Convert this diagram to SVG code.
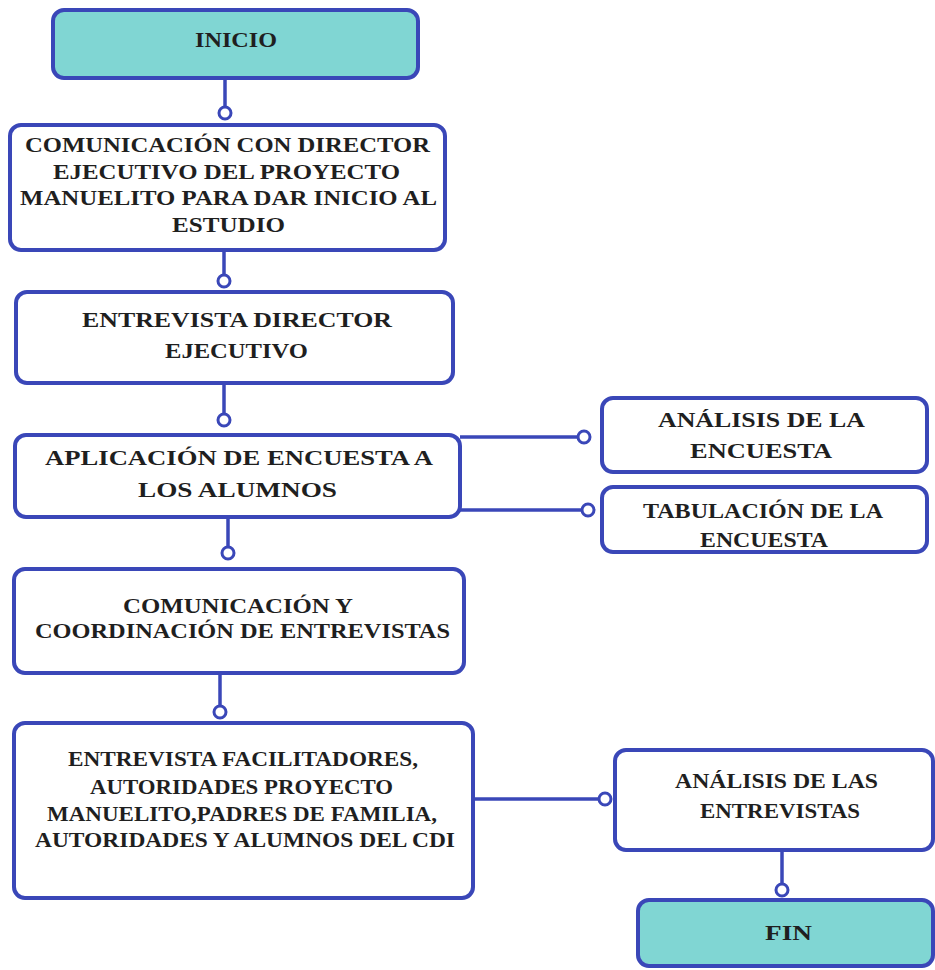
<svg xmlns="http://www.w3.org/2000/svg" width="935" height="970" viewBox="0 0 935 970">
<style>
.box{fill:#ffffff;stroke:#3a47b8;stroke-width:4}
.term{fill:#80d6d3;stroke:#3a47b8;stroke-width:4}
.t{font-family:"Liberation Serif","Times New Roman",serif;font-weight:bold;font-size:22px;fill:#1f1f1f;text-anchor:middle}
.ln{stroke:#3a47b8;stroke-width:3.5;fill:none}
.dot{fill:#ffffff;stroke:#3a47b8;stroke-width:3}
</style>
<rect width="935" height="970" fill="#ffffff"/>
<g id="connectors">
<line class="ln" x1="225" y1="78" x2="225" y2="107"/>
<circle class="dot" cx="225" cy="113" r="6"/>
<line class="ln" x1="224" y1="250" x2="224" y2="275"/>
<circle class="dot" cx="224" cy="281" r="6"/>
<line class="ln" x1="224" y1="383" x2="224" y2="414"/>
<circle class="dot" cx="224" cy="420" r="6"/>
<line class="ln" x1="460" y1="437" x2="578" y2="437"/>
<circle class="dot" cx="584" cy="437" r="6"/>
<line class="ln" x1="460" y1="510" x2="582" y2="510"/>
<circle class="dot" cx="588" cy="510" r="6"/>
<line class="ln" x1="228" y1="517" x2="228" y2="547"/>
<circle class="dot" cx="228" cy="553" r="6"/>
<line class="ln" x1="220" y1="673" x2="220" y2="706"/>
<circle class="dot" cx="220" cy="712" r="6"/>
<line class="ln" x1="473" y1="799" x2="599" y2="799"/>
<circle class="dot" cx="605" cy="799" r="6"/>
<line class="ln" x1="782" y1="850" x2="782" y2="884"/>
<circle class="dot" cx="782" cy="890" r="6"/>
</g>
<g id="inicio">
<rect class="term" x="53" y="10" width="365" height="68" rx="11"/>
<text class="t" x="236" y="47" textLength="82" lengthAdjust="spacingAndGlyphs">INICIO</text>
</g>
<g id="comunicacion-director">
<rect class="box" x="10" y="125" width="435" height="125" rx="11"/>
<text class="t" x="227.5" y="152" textLength="405" lengthAdjust="spacingAndGlyphs">COMUNICACIÓN CON DIRECTOR</text>
<text class="t" x="226.5" y="179" textLength="347" lengthAdjust="spacingAndGlyphs">EJECUTIVO DEL PROYECTO</text>
<text class="t" x="228.5" y="205" textLength="417" lengthAdjust="spacingAndGlyphs">MANUELITO PARA DAR INICIO AL</text>
<text class="t" x="228.5" y="232" textLength="113" lengthAdjust="spacingAndGlyphs">ESTUDIO</text>
</g>
<g id="entrevista-director">
<rect class="box" x="16" y="292" width="437" height="91" rx="11"/>
<text class="t" x="237" y="327" textLength="310" lengthAdjust="spacingAndGlyphs">ENTREVISTA DIRECTOR</text>
<text class="t" x="236.5" y="358" textLength="143" lengthAdjust="spacingAndGlyphs">EJECUTIVO</text>
</g>
<g id="aplicacion-encuesta">
<rect class="box" x="15" y="435" width="445" height="82" rx="11"/>
<text class="t" x="239" y="465" textLength="388" lengthAdjust="spacingAndGlyphs">APLICACIÓN DE ENCUESTA A</text>
<text class="t" x="237.5" y="497" textLength="199" lengthAdjust="spacingAndGlyphs">LOS ALUMNOS</text>
</g>
<g id="analisis-encuesta">
<rect class="box" x="602" y="398" width="325" height="74" rx="11"/>
<text class="t" x="761.5" y="427" textLength="207" lengthAdjust="spacingAndGlyphs">ANÁLISIS DE LA</text>
<text class="t" x="761" y="458" textLength="142" lengthAdjust="spacingAndGlyphs">ENCUESTA</text>
</g>
<g id="tabulacion-encuesta">
<rect class="box" x="602" y="487" width="325" height="65" rx="11"/>
<text class="t" x="763" y="518" textLength="240" lengthAdjust="spacingAndGlyphs">TABULACIÓN DE LA</text>
<text class="t" x="764" y="547" textLength="128" lengthAdjust="spacingAndGlyphs">ENCUESTA</text>
</g>
<g id="coordinacion-entrevistas">
<rect class="box" x="14" y="569" width="450" height="104" rx="11"/>
<text class="t" x="238" y="613" textLength="230" lengthAdjust="spacingAndGlyphs">COMUNICACIÓN Y</text>
<text class="t" x="242.5" y="638" textLength="415" lengthAdjust="spacingAndGlyphs">COORDINACIÓN DE ENTREVISTAS</text>
</g>
<g id="entrevista-facilitadores">
<rect class="box" x="14" y="723" width="459" height="175" rx="11"/>
<text class="t" x="243" y="766" textLength="350" lengthAdjust="spacingAndGlyphs">ENTREVISTA FACILITADORES,</text>
<text class="t" x="241.5" y="794" textLength="303" lengthAdjust="spacingAndGlyphs">AUTORIDADES PROYECTO</text>
<text class="t" x="242" y="821" textLength="390" lengthAdjust="spacingAndGlyphs">MANUELITO,PADRES DE FAMILIA,</text>
<text class="t" x="245" y="847" textLength="420" lengthAdjust="spacingAndGlyphs">AUTORIDADES Y ALUMNOS DEL CDI</text>
</g>
<g id="analisis-entrevistas">
<rect class="box" x="615" y="750" width="318" height="100" rx="11"/>
<text class="t" x="776.5" y="788" textLength="203" lengthAdjust="spacingAndGlyphs">ANÁLISIS DE LAS</text>
<text class="t" x="780" y="818" textLength="160" lengthAdjust="spacingAndGlyphs">ENTREVISTAS</text>
</g>
<g id="fin">
<rect class="term" x="638" y="900" width="295" height="66" rx="11"/>
<text class="t" x="788.5" y="940" textLength="47" lengthAdjust="spacingAndGlyphs">FIN</text>
</g>
</svg>
